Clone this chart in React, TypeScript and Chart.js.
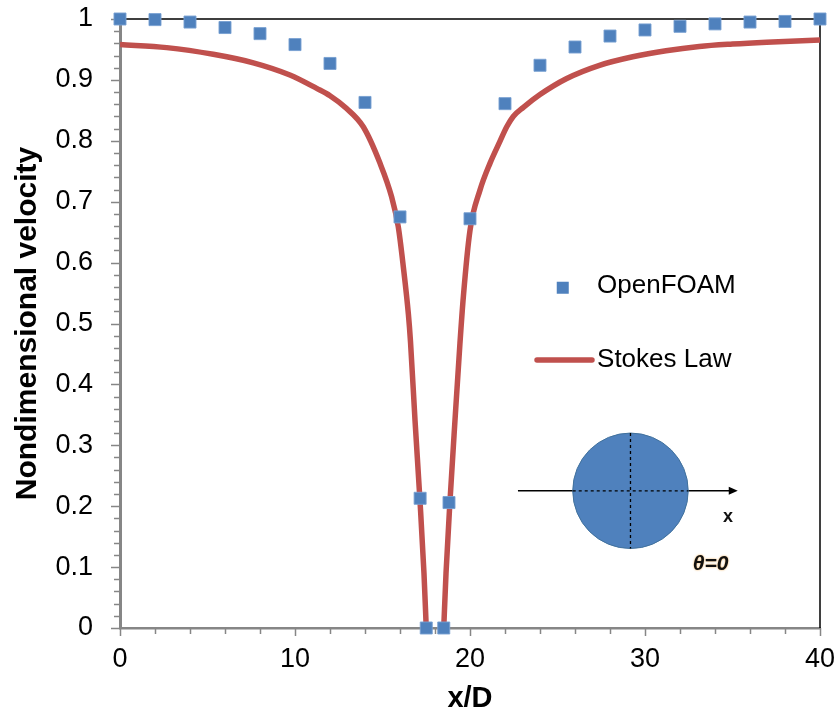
import React, { useEffect, useRef } from "react";
import { Chart, registerables } from "chart.js";

Chart.register(...registerables);

// ---------- data ----------
const openfoamX = [0, 2, 4, 6, 8, 10, 12, 14, 16, 17.15, 17.5, 18.5, 18.8, 20, 22, 24, 26, 28, 30, 32, 34, 36, 38, 40];
const openfoamY = [1.0, 0.999, 0.995, 0.986, 0.976, 0.958, 0.927, 0.863, 0.675, 0.213, 0, 0, 0.206, 0.672, 0.861, 0.924, 0.954, 0.972, 0.982, 0.988, 0.992, 0.995, 0.996, 1.0];

const stokesX = [0, 2.67, 5.33, 7.62, 9.71, 11.24, 12, 12.95, 13.9, 14.86, 15.52, 15.9, 16.19, 16.48, 16.6, 16.86, 17.14, 17.37, 17.5,
  18,
  18.5, 18.63, 18.86, 19.14, 19.42, 19.62, 20, 20.57, 21.14, 21.71, 22.1, 22.47, 23.05, 24, 25.5, 27.4, 29.3, 31.2, 33.1, 35, 36.95, 40];
const stokesY: (number | null)[] = [0.958, 0.953, 0.942, 0.928, 0.908, 0.886, 0.874, 0.853, 0.823, 0.763, 0.708, 0.659, 0.593, 0.515, 0.47, 0.34, 0.21, 0.09, 0,
  null,
  0, 0.09, 0.21, 0.34, 0.465, 0.544, 0.653, 0.719, 0.763, 0.799, 0.823, 0.84, 0.855, 0.876, 0.902, 0.924, 0.938, 0.948, 0.955, 0.959, 0.962, 0.9655];

const seriesLabels = ["OpenFOAM", "Stokes Law"];
const xTitle = "x/D";
const yTitle = "Nondimensional velocity";
const xRange = [0, 40];
const yRange = [0, 1];
const xMajorStep = 10;
const xMinorStep = 2;
const yMajorStep = 0.1;
const yMinorStep = 0.02;

// ---------- styles ----------
const BLUE = "#4F81BD";
const RED = "#C0504D";
const AXIS_GRAY = "#868686";
const FONT = "'Liberation Sans', Arial, sans-serif";

// legend / inset placement in data units
const LEGEND = { markerX: 25.3, lineX0: 23.83, lineX1: 26.97, textX: 27.26, row1Y: 0.562, row2Y: 0.44 };
const INSET = { cx: 29.17, cy: 0.2253, rX: 3.3, arrowX0: 22.74, arrowX1: 35.3, xLabelX: 34.75, xLabelY: 0.182, thetaX: 33.75, thetaY: 0.104 };

const decorPlugin = {
  id: "decor",
  beforeDatasetsDraw(chart: any) {
    const { ctx, chartArea: a, scales } = chart;
    const x = scales.x, y = scales.y;
    ctx.save();
    // top and right frame
    ctx.strokeStyle = "#000";
    ctx.lineWidth = 1.5;
    ctx.beginPath();
    ctx.moveTo(a.left, a.top);
    ctx.lineTo(a.right, a.top);
    ctx.lineTo(a.right, a.bottom);
    ctx.stroke();
    // tick marks
    ctx.strokeStyle = AXIS_GRAY;
    ctx.lineWidth = 1.5;
    ctx.beginPath();
    const nY = Math.round((y.max - y.min) / yMinorStep);
    for (let i = 0; i <= nY; i++) {
      const v = y.min + i * yMinorStep;
      const py = Math.round(y.getPixelForValue(v)) + 0.5;
      const major = i % Math.round(yMajorStep / yMinorStep) === 0;
      const len = major ? 9 : 6;
      ctx.moveTo(a.left - len, py);
      ctx.lineTo(a.left, py);
    }
    const nX = Math.round((x.max - x.min) / xMinorStep);
    for (let i = 0; i <= nX; i++) {
      const v = x.min + i * xMinorStep;
      const px = Math.round(x.getPixelForValue(v)) + 0.5;
      const major = i % Math.round(xMajorStep / xMinorStep) === 0;
      const len = major ? 8 : 6;
      ctx.moveTo(px, a.bottom);
      ctx.lineTo(px, a.bottom + len);
    }
    ctx.stroke();
    ctx.restore();
  },
  afterDatasetsDraw(chart: any) {
    const { ctx, scales } = chart;
    const x = scales.x, y = scales.y;
    ctx.save();
    // legend
    const r1 = y.getPixelForValue(LEGEND.row1Y);
    const r2 = y.getPixelForValue(LEGEND.row2Y);
    const mx = x.getPixelForValue(LEGEND.markerX);
    ctx.fillStyle = BLUE;
    ctx.fillRect(mx - 6, r1 - 6 + 2, 12, 12);
    ctx.strokeStyle = RED;
    ctx.lineWidth = 5.5;
    ctx.lineCap = "round";
    ctx.beginPath();
    ctx.moveTo(x.getPixelForValue(LEGEND.lineX0), r2);
    ctx.lineTo(x.getPixelForValue(LEGEND.lineX1), r2);
    ctx.stroke();
    ctx.fillStyle = "#000";
    ctx.font = `26px ${FONT}`;
    ctx.textBaseline = "middle";
    ctx.textAlign = "left";
    const tx = x.getPixelForValue(LEGEND.textX);
    ctx.fillText(seriesLabels[0], tx, r1);
    ctx.fillText(seriesLabels[1], tx, r2);

    // inset: sphere with x-axis arrow
    const cx = x.getPixelForValue(INSET.cx);
    const cy = y.getPixelForValue(INSET.cy);
    const rad = x.getPixelForValue(INSET.cx + INSET.rX) - cx;
    const ax0 = x.getPixelForValue(INSET.arrowX0);
    const ax1 = x.getPixelForValue(INSET.arrowX1);
    ctx.lineCap = "butt";
    ctx.strokeStyle = "#000";
    ctx.lineWidth = 1.5;
    ctx.beginPath();
    ctx.moveTo(ax0, cy);
    ctx.lineTo(ax1 - 6, cy);
    ctx.stroke();
    ctx.fillStyle = "#000";
    ctx.beginPath();
    ctx.moveTo(ax1, cy);
    ctx.lineTo(ax1 - 9, cy - 4);
    ctx.lineTo(ax1 - 9, cy + 4);
    ctx.closePath();
    ctx.fill();
    ctx.fillStyle = BLUE;
    ctx.strokeStyle = "#41719C";
    ctx.lineWidth = 1;
    ctx.beginPath();
    ctx.arc(cx, cy, rad, 0, Math.PI * 2);
    ctx.fill();
    ctx.stroke();
    ctx.strokeStyle = "#000";
    ctx.lineWidth = 1.3;
    ctx.setLineDash([3, 3]);
    ctx.beginPath();
    ctx.moveTo(cx - rad, cy);
    ctx.lineTo(cx + rad, cy);
    ctx.moveTo(cx, cy - rad);
    ctx.lineTo(cx, cy + rad);
    ctx.stroke();
    ctx.setLineDash([]);
    ctx.fillStyle = "#111";
    ctx.textAlign = "center";
    ctx.font = `bold 18px ${FONT}`;
    ctx.fillText("x", x.getPixelForValue(INSET.xLabelX), y.getPixelForValue(INSET.xLabelY));
    ctx.font = `italic bold 21px ${FONT}`;
    ctx.shadowColor = "rgba(235,160,60,0.9)";
    ctx.shadowBlur = 2;
    ctx.fillText("θ=0", x.getPixelForValue(INSET.thetaX), y.getPixelForValue(INSET.thetaY));
    ctx.restore();
  },
};

export default function App() {
  const ref = useRef<HTMLCanvasElement | null>(null);
  useEffect(() => {
    document.body.style.margin = "0";
    if (!ref.current) return;
    const chart = new Chart(ref.current, {
      type: "scatter",
      data: {
        datasets: [
          {
            label: seriesLabels[0],
            data: openfoamX.map((v, i) => ({ x: v, y: openfoamY[i] })),
            pointStyle: "rect",
            pointRadius: 8.5,
            pointHoverRadius: 8.5,
            backgroundColor: BLUE,
            borderColor: "rgba(120,160,210,0.9)",
            borderWidth: 1,
            clip: false,
            order: 0,
          } as any,
          {
            label: seriesLabels[1],
            data: stokesX.map((v, i) => ({ x: v, y: stokesY[i] })),
            showLine: true,
            spanGaps: false,
            borderColor: RED,
            backgroundColor: RED,
            borderWidth: 5.5,
            pointRadius: 0,
            cubicInterpolationMode: "monotone",
            borderCapStyle: "butt",
            order: 1,
          } as any,
        ],
      },
      options: {
        animation: false,
        responsive: false,
        events: [],
        layout: { padding: { top: 19, right: 20, left: 0, bottom: 0 } },
        plugins: { legend: { display: false }, tooltip: { enabled: false } },
        scales: {
          x: {
            type: "linear",
            min: xRange[0],
            max: xRange[1],
            ticks: { stepSize: xMajorStep, color: "#000", font: { family: FONT, size: 27 }, padding: 15, maxRotation: 0 },
            grid: { display: false, drawTicks: false },
            border: { display: true, color: AXIS_GRAY, width: 2.5 },
            title: { display: true, text: xTitle, color: "#000", font: { family: FONT, size: 29, weight: "bold" }, padding: { top: 0, bottom: 3 } },
            afterFit: (s: any) => { s.height = 91; s.paddingLeft = 0; s.paddingRight = 0; },
          },
          y: {
            type: "linear",
            min: yRange[0],
            max: yRange[1],
            ticks: {
              stepSize: yMajorStep,
              color: "#000",
              font: { family: FONT, size: 27 },
              padding: 27,
              callback: (v: any) => String(Number(Number(v).toFixed(1))),
            },
            grid: { display: false, drawTicks: false },
            border: { display: true, color: AXIS_GRAY, width: 3 },
            title: { display: true, text: yTitle, color: "#000", font: { family: FONT, size: 30, weight: "bold" }, padding: { top: 10, bottom: 0 } },
            afterFit: (s: any) => { s.width = 120; s.paddingTop = 0; s.paddingBottom = 0; },
          },
        },
      },
      plugins: [decorPlugin],
    });
    return () => chart.destroy();
  }, []);
  return (
    <div style={{ width: 840, height: 719, background: "#fff" }}>
      <canvas ref={ref} width={840} height={719} style={{ display: "block" }} />
    </div>
  );
}
